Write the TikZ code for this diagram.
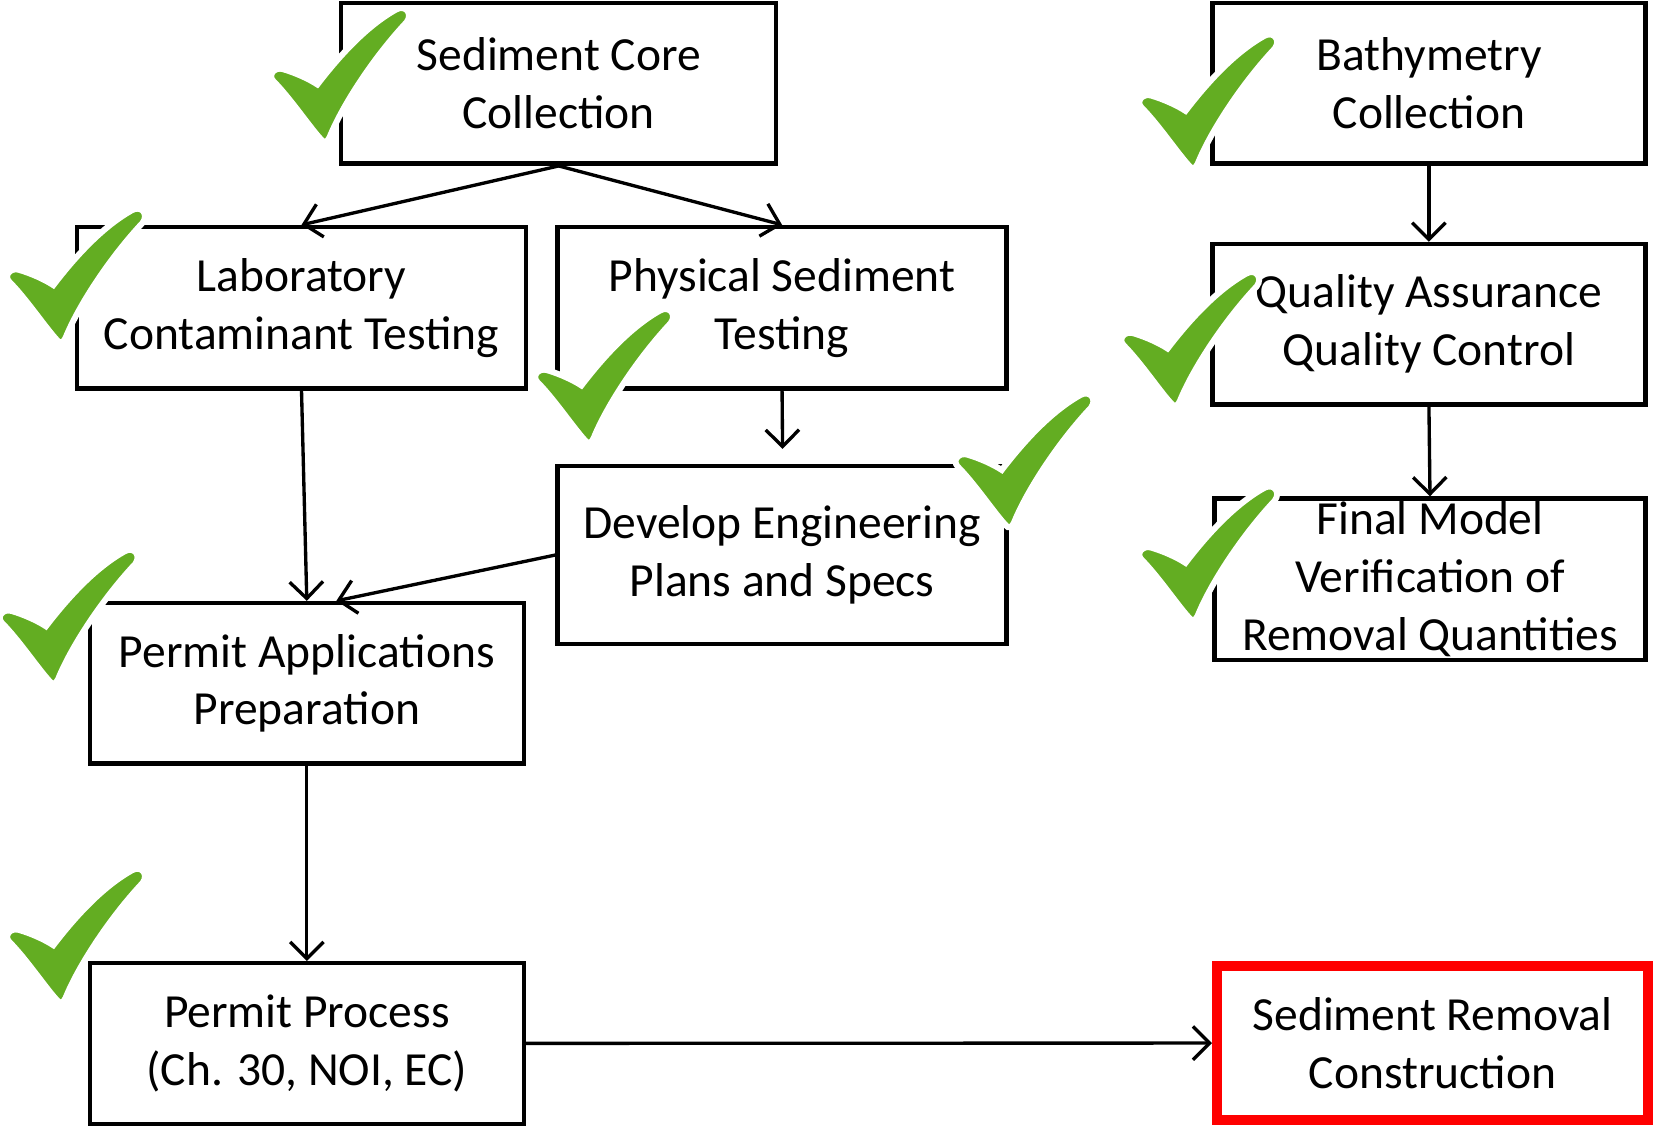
\documentclass[tikz,border=0pt]{standalone}
\usepackage{fontspec}
\setmainfont{Carlito}
\usetikzlibrary{arrows.meta}
\definecolor{checkgreen}{RGB}{99,173,34}
\definecolor{stopred}{RGB}{255,0,0}
\begin{document}
\begin{tikzpicture}
\tikzstyle{every node}+=[font=\fontsize{12.8}{15.6}\selectfont]
\tikzstyle{stepbox}=[draw, line width=1.2pt, align=center, inner sep=0pt, minimum height=1.52cm]
\tikzstyle{link}=[line width=0.9pt, -{Straight Barb[length=4.5pt,width=9pt]}]
\tikzset{greencheck/.pic={
\filldraw [checkgreen, draw=white, line width=1.6pt] (0,0) .. controls (-0.1,0.1) and (-0.3,0.4) .. (-0.46,0.56)
  .. controls (-0.52,0.62) and (-0.45,0.7) .. (-0.37,0.675)
  .. controls (-0.25,0.64) and (-0.12,0.58) .. (-0.045,0.53)
  .. controls (0.2,0.85) and (0.45,1.1) .. (0.7,1.24)
  .. controls (0.79,1.29) and (0.86,1.2) .. (0.8,1.12)
  .. controls (0.5,0.8) and (0.2,0.35) .. (0.07,0.03)
  .. controls (0.05,-0.02) and (0.01,-0.02) .. cycle;
}}
\useasboundingbox (0,0) rectangle (15.68,-10.70);
% boxes
\node [stepbox, minimum width=4.12cm] (core) at (5.29,-0.79) {Sediment Core\\Collection};
\node [stepbox, minimum width=4.10cm] (bathy) at (13.53,-0.79) {Bathymetry\\Collection};
\node [stepbox, minimum width=4.25cm, minimum height=1.53cm] (lab) at (2.855,-2.915) {Laboratory\\Contaminant Testing};
\node [stepbox, minimum width=4.25cm, minimum height=1.53cm] (phys) at (7.405,-2.915) {Physical Sediment\\Testing};
\node [stepbox, minimum width=4.10cm] (qaqc) at (13.53,-3.07) {Quality Assurance\\Quality Control};
\node [stepbox, minimum width=4.25cm, minimum height=1.69cm] (dev) at (7.405,-5.255) {Develop Engineering\\Plans and Specs};
\node [stepbox, minimum width=4.08cm, minimum height=1.53cm] (final) at (13.54,-5.485) {Final Model\\Verification of\\Removal Quantities};
\node [stepbox, minimum width=4.11cm] (papp) at (2.905,-6.47) {Permit Applications\\Preparation};
\node [stepbox, minimum width=4.11cm] (pproc) at (2.905,-9.88) {Permit Process\\(Ch. 30, NOI, EC)};
\node [stepbox, draw=stopred, line width=2.8pt, minimum width=4.08cm, minimum height=1.46cm] (remov) at (13.565,-9.875) {Sediment Removal\\Construction};
\coordinate (devtop) at (7.41,-4.25);
% connectors
\draw [link] (core.south) -- (lab.north);
\draw [link] (core.south) -- (phys.north);
\draw [link] (bathy) -- (qaqc);
\draw [link] (lab.south) -- (papp.north);
\draw [link] (phys.south) -- (devtop);
\draw [link] (dev.west) -- ([xshift=0.28cm]papp.north);
\draw [link] (qaqc.south) -- (final.north);
\draw [link] (papp) -- (pproc);
\draw [link] (pproc) -- (remov);
% done marks
\foreach \x/\y in {3.05/-1.33, 11.27/-1.58, 0.55/-3.23, 5.55/-4.18, 11.10/-3.83,
  9.53/-4.98, 11.27/-5.86, 0.48/-6.46, 0.55/-9.48}
  \pic at (\x,\y) {greencheck};
\end{tikzpicture}
\end{document}
